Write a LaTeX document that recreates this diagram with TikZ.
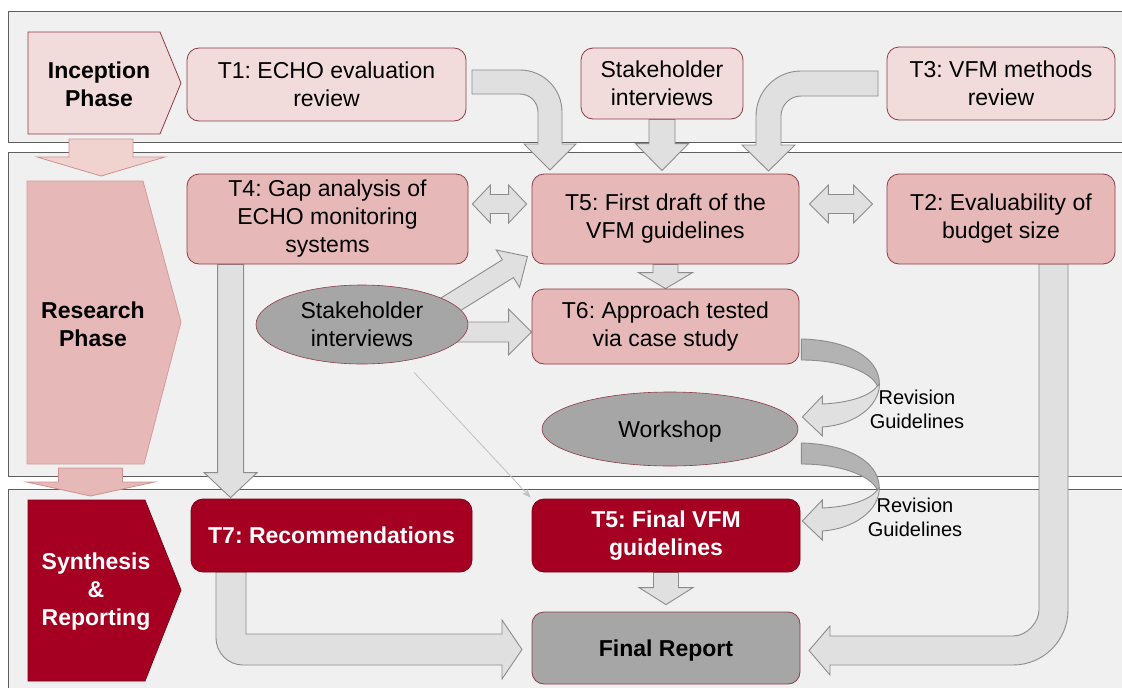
\documentclass[tikz,border=0pt]{standalone}
\usepackage{fontspec}
\setmainfont{Liberation Sans}
\frenchspacing
\usetikzlibrary{calc,arrows.meta,shapes.geometric}
\definecolor{bandfill}{HTML}{F0F0F0}
\definecolor{bandline}{HTML}{5F5F5F}
\definecolor{pinklight}{HTML}{F2DCDB}
\definecolor{pinkmid}{HTML}{E6B9B8}
\definecolor{boxline}{HTML}{8E3B48}
\definecolor{resline}{HTML}{D49A9C}
\definecolor{darkred}{HTML}{A50021}
\definecolor{darkredline}{HTML}{7A0018}
\definecolor{graynode}{HTML}{A6A6A6}
\definecolor{arrowfill}{HTML}{E0E0E0}
\definecolor{arrowline}{HTML}{8C8C8C}
\definecolor{arrowdark}{HTML}{B3B3B3}
\definecolor{phasearrowline}{HTML}{D09090}
\definecolor{phasearrowfill}{HTML}{F0D3CF}
\definecolor{thinline}{HTML}{C0C0C0}

\pgfdeclarelayer{bandlayer}
\pgfdeclarelayer{arrowlayer}
\pgfsetlayers{bandlayer,arrowlayer,main}

% straight block arrow: style, from, tip, shaft half width, head half width, head length
\newcommand\blkarrow[6]{%
  \path let \p1=(#2), \p2=(#3), \n1={atan2(\y2-\y1,\x2-\x1)}, \n2={veclen(\x2-\x1,\y2-\y1)} in
    \pgfextra{\xdef\blkang{\n1}\xdef\blklen{\n2}};
  \begin{scope}[shift={(#2)}, rotate=\blkang, x=1pt, y=1pt]
    \draw[#1] (0,-#4) -- ({\blklen-#6},-#4) -- ({\blklen-#6},-#5) -- (\blklen,0)
      -- ({\blklen-#6},#5) -- ({\blklen-#6},#4) -- (0,#4) -- cycle;
  \end{scope}}
% double block arrow: style, end A, end B, shaft half width, head half width, head length
\newcommand\dblarrow[6]{%
  \path let \p1=(#2), \p2=(#3), \n1={atan2(\y2-\y1,\x2-\x1)}, \n2={veclen(\x2-\x1,\y2-\y1)} in
    \pgfextra{\xdef\blkang{\n1}\xdef\blklen{\n2}};
  \begin{scope}[shift={(#2)}, rotate=\blkang, x=1pt, y=1pt]
    \draw[#1] (0,0) -- (#6,-#5) -- (#6,-#4) -- ({\blklen-#6},-#4) -- ({\blklen-#6},-#5)
      -- (\blklen,0) -- ({\blklen-#6},#5) -- ({\blklen-#6},#4) -- (#6,#4) -- (#6,#5) -- cycle;
  \end{scope}}

\begin{document}
\begin{tikzpicture}[x=1pt,y=-1pt,
  band/.style={fill=bandfill, draw=bandline, line width=1pt},
  box/.style={rectangle, rounded corners=12pt, draw=boxline, line width=0.8pt, align=center,
    inner sep=0pt, font=\fontsize{23}{28}\selectfont},
  topbox/.style={box, fill=pinklight},
  midbox/.style={box, fill=pinkmid},
  redbox/.style={box, fill=darkred, draw=darkredline, text=white, font=\fontsize{23}{28}\selectfont\bfseries},
  graybox/.style={box, fill=graynode, font=\fontsize{23}{28}\selectfont\bfseries},
  grayell/.style={ellipse, fill=graynode, draw=boxline, line width=0.6pt, inner sep=0pt, align=center,
    font=\fontsize{23}{28}\selectfont},
  phasetext/.style={align=center, inner sep=0pt, font=\fontsize{23}{28}\selectfont\bfseries},
  lbl/.style={align=center, inner sep=0pt, font=\fontsize{20}{24}\selectfont},
  blk/.style={fill=arrowfill, draw=arrowline, line width=0.9pt, line join=miter},
  blkdark/.style={fill=arrowdark, draw=arrowline, line width=0.9pt, line join=round},
  phasearrA/.style={fill=phasearrowfill, draw=phasearrowline, line width=0.8pt},
  phasearrB/.style={fill=pinkmid, draw=phasearrowline, line width=0.8pt},
  thinarr/.style={draw=thinline, line width=0.8pt, -{Stealth[length=9pt,width=7pt]}}
]
\useasboundingbox (0,0) rectangle (1122,688);

% ---- phase bands
\begin{pgfonlayer}{bandlayer}
  \draw[band] (8,11) rectangle (1135,142);
  \draw[band] (8,152) rectangle (1135,476);
  \draw[band] (8,489) rectangle (1135,700);
\end{pgfonlayer}

% ---- phase chevrons
\draw[fill=pinklight, draw=boxline, line width=0.8pt] (28,32) -- (160,32) -- (181,83) -- (160,134) -- (28,134) -- cycle;
\node[phasetext] (inc) at (99,84) {Inception\\Phase};
\draw[fill=pinkmid, draw=resline, line width=0.8pt] (27,181) -- (143,181) -- (181,322) -- (144,464) -- (27,464) -- cycle;
\node[phasetext] (res) at (93,324) {Research\\Phase};
\draw[fill=darkred, draw=darkredline, line width=0.8pt] (28,500) -- (145,500) -- (181,590) -- (145,681) -- (28,681) -- cycle;
\node[phasetext, text=white] (syn) at (96,592) {Synthesis\\\&\\Reporting};

% ---- task boxes
\node[topbox, minimum width=279pt, minimum height=73pt] (t1) at (326.5,84.5) {T1: ECHO evaluation\\review};
\node[topbox, minimum width=162pt, minimum height=71pt] (sht) at (662,83.5) {Stakeholder\\interviews};
\node[topbox, minimum width=228pt, minimum height=73pt] (t3) at (1001,83.5) {T3: VFM methods\\review};
\node[midbox, minimum width=281pt, minimum height=90pt] (t4) at (327.5,219) {T4: Gap analysis of\\ECHO monitoring\\systems};
\node[midbox, minimum width=267pt, minimum height=90pt] (t5a) at (665.5,219) {T5: First draft of the\\VFM guidelines};
\node[midbox, minimum width=228pt, minimum height=90pt] (t2) at (1001,219) {T2: Evaluability of\\budget size};
\node[midbox, minimum width=267pt, minimum height=75pt] (t6) at (665.5,326.5) {T6: Approach tested\\via case study};
\node[grayell, minimum width=212pt, minimum height=79pt] (sh) at (362,324.5) {Stakeholder\\interviews};
\node[grayell, minimum width=256pt, minimum height=74pt, text depth=0pt] (ws) at (670,429) {Workshop};
\node[redbox, minimum width=281pt, minimum height=73pt] (t7) at (331.5,535.5) {T7: Recommendations};
\node[redbox, minimum width=268pt, minimum height=73pt] (t5b) at (666,535.5) {T5: Final VFM\\guidelines};
\node[graybox, minimum width=268pt, minimum height=72pt, text depth=0pt] (fr) at (666,648) {Final Report};
\node[lbl] (rg1) at (917,409) {Revision\\Guidelines};
\node[lbl] (rg2) at (915,517) {Revision\\Guidelines};

% ---- arrows
\begin{pgfonlayer}{arrowlayer}
  % phase transitions
  \coordinate (incS) at (101,139);
  \coordinate (incE) at (101,176);
  \coordinate (resS) at (90.5,468);
  \coordinate (resE) at (90.5,496);
  \blkarrow{phasearrA}{incS}{incE}{32}{64}{19}
  \blkarrow{phasearrB}{resS}{resE}{32}{64}{14}
  % straight arrows
  \blkarrow{blk}{sht.south}{$(sht.south |- t5a.north)+(0,-3)$}{13}{26.5}{27}
  \blkarrow{blk}{t5a.south}{t6.north}{12.5}{27}{16}
  \blkarrow{blk}{t5b.south}{$(fr.north)+(0,-7)$}{12.5}{27}{17}
  \blkarrow{blk}{$(t4.south west)+(44,0)$}{$(t7.north west)+(40,-1)$}{13}{26.5}{25}
  \blkarrow{blk}{$(sh.center)+(78,7.5)$}{$(t6.west)+(0,5.5)$}{10}{23}{23}
  \blkarrow{blk}{$(sh.center)+(72.7,-10.2)$}{$(t5a.south west)+(-4,-8)$}{10.5}{22}{23}
  \dblarrow{blk}{$(t4.east)+(4,-15)$}{$(t5a.west)+(-5,-15)$}{9.5}{19}{18}
  \dblarrow{blk}{$(t5a.east)+(10,-15)$}{$(t2.west)+(-14,-15)$}{9.5}{19}{19}
  % bent arrow T1 -> T5
  \draw[blk] (472,70) -- (520,70) .. controls (543.2,70) and (562,88.8) .. (562,112) -- (562,144)
    -- (576,144) -- (550,170) -- (524,144) -- (538,144) -- (538,112)
    .. controls (538,102.1) and (529.9,94) .. (520,94) -- (472,94) -- cycle;
  % bent arrow T3 -> T5
  \draw[blk] (878,71) -- (801,71) .. controls (776.1,71) and (756,91.1) .. (756,116) -- (756,145)
    -- (742,145) -- (768.5,171) -- (795,145) -- (781,145) -- (781,116)
    .. controls (781,105) and (790,96) .. (801,96) -- (878,96) -- cycle;
  % bent arrow T2 -> Final Report
  \draw[blk] (1039,264) -- (1068,264) -- (1068,610) .. controls (1068,640.4) and (1043.4,665) .. (1013,665)
    -- (830,665) -- (830,675) -- (809,650.5) -- (830,626) -- (830,636) -- (1013,636)
    .. controls (1027.4,636) and (1039,621.6) .. (1039,610) -- cycle;
  % bent arrow T7 -> Final Report
  \draw[blk] (216,572) -- (246,572) -- (246,634) -- (502,634) -- (502,620) -- (522,649.5)
    -- (502,679) -- (502,665) -- (243,665) .. controls (228.1,665) and (216,652.9) .. (216,638) -- cycle;
  % curved arrows (revision loops)
  \begin{scope}[shift={($(t6.east)+(2,12.5)$)}]
    \draw[blkdark] (0,0) .. controls (45,1) and (78,18) .. (78,45) -- (76,47)
      .. controls (70,33) and (40,21) .. (0,21) -- cycle;
    \draw[blk] (78,45) .. controls (78,68) and (52,86) .. (21,88) -- (21,97) -- (1,78) -- (21,57) -- (21,65)
      .. controls (45,64) and (68,58) .. (76,47) -- cycle;
  \end{scope}
  \begin{scope}[shift={($(ws.east)+(3,14)$)}]
    \draw[blkdark] (0,0) .. controls (45,1) and (78,18) .. (78,45) -- (76,47)
      .. controls (70,33) and (40,21) .. (0,21) -- cycle;
    \draw[blk] (78,45) .. controls (78,68) and (52,86) .. (21,88) -- (21,97) -- (1,78) -- (21,57) -- (21,65)
      .. controls (45,64) and (68,58) .. (76,47) -- cycle;
  \end{scope}
  % thin arrow
  \draw[thinarr] ($(sh.south)+(52,8)$) -- ($(t5b.north west)+(-1,-1)$);
\end{pgfonlayer}
\end{tikzpicture}
\end{document}
